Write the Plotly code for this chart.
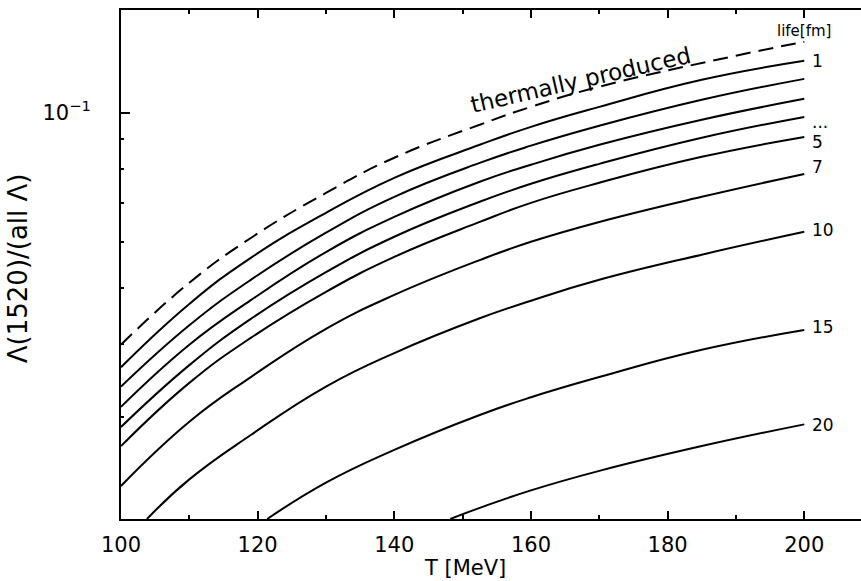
import numpy as np
import plotly.graph_objects as go

# ---- data ----
T_thermal = [100, 110, 119, 130, 140, 152.5, 160, 170, 190, 200]
thermal = [0.0399, 0.0510, 0.0609, 0.0728, 0.0837, 0.0954, 0.1024, 0.1109, 0.1254, 0.1325]

T_grid = [100, 110, 119, 130, 140, 152.5, 160, 170, 185, 200]
life_1 = [0.0365, 0.0469, 0.0563, 0.0673, 0.0773, 0.0881, 0.0946, 0.1024, 0.1140, 0.1229]
life_2 = [0.0338, 0.0431, 0.0516, 0.0622, 0.0717, 0.0820, 0.0878, 0.0950, 0.1053, 0.1144]
life_3 = [0.0312, 0.0399, 0.0476, 0.0576, 0.0662, 0.0761, 0.0814, 0.0881, 0.0973, 0.1057]
life_4 = [0.0288, 0.0368, 0.0442, 0.0532, 0.0612, 0.0703, 0.0755, 0.0817, 0.0906, 0.0984]
life_5 = [0.0267, 0.0343, 0.0410, 0.0492, 0.0565, 0.0649, 0.0700, 0.0758, 0.0840, 0.0909]
life_7 = [0.0228, 0.0294, 0.0351, 0.0425, 0.0486, 0.0558, 0.0600, 0.0649, 0.0717, 0.0785]

T_10 = [103.8, 110, 119, 130, 140, 152.5, 160, 170, 185, 200]
life_10 = [0.0200, 0.0234, 0.0279, 0.0338, 0.0386, 0.0443, 0.0475, 0.0516, 0.0570, 0.0624]

T_15 = [121.4, 130, 140, 152.5, 160, 170, 185, 200]
life_15 = [0.0200, 0.0231, 0.0263, 0.0302, 0.0324, 0.0351, 0.0391, 0.0423]

T_20 = [148.2, 152.5, 160, 170, 185, 200]
life_20 = [0.0200, 0.0209, 0.0224, 0.0242, 0.0267, 0.0291]

solid_series = [
    (T_grid, life_1, "1", 0),
    (T_grid, life_2, "", 0),
    (T_grid, life_3, "", 0),
    (T_grid, life_4, "...", -5),
    (T_grid, life_5, "5", -5),
    (T_grid, life_7, "7", 7),
    (T_10, life_10, "10", 2),
    (T_15, life_15, "15", 3),
    (T_20, life_20, "20", -1),
]

x_ticks = [100, 120, 140, 160, 180, 200]
x_minor = [110, 130, 150, 170, 190]
y_major = [0.1]
y_major_text = ["10<sup>\u22121</sup>"]
y_minor = [0.02, 0.03, 0.04, 0.05, 0.06, 0.07, 0.08, 0.09]

FONT = "DejaVu Sans"

fig = go.Figure()
fig.add_trace(go.Scatter(x=T_thermal, y=thermal, mode="lines",
                         line=dict(color="black", width=2, dash="15px,8px", shape="spline", smoothing=1.3),
                         hoverinfo="skip"))
for tx, ty, lab, sh in solid_series:
    fig.add_trace(go.Scatter(x=tx, y=ty, mode="lines",
                             line=dict(color="black", width=2, shape="spline", smoothing=1.3),
                             hoverinfo="skip"))
    if lab:
        fig.add_annotation(x=tx[-1], y=np.log10(ty[-1]), xref="x", yref="y", text=lab,
                           showarrow=False, xanchor="left", xshift=6, yshift=sh,
                           font=dict(family=FONT, size=17, color="black"))

fig.add_annotation(x=T_thermal[-1], y=np.log10(thermal[-1]), xref="x", yref="y", text="life[fm]",
                   showarrow=False, xanchor="center", xshift=0, yshift=11,
                   font=dict(family=FONT, size=15, color="black"))

fig.add_annotation(x=167.2, y=np.log10(0.1139), xref="x", yref="y", text="thermally produced",
                   showarrow=False, textangle=-13,
                   font=dict(family=FONT, size=23, color="black"))

# axis titles
fig.add_annotation(x=-0.139, y=0.493, xref="paper", yref="paper", text="\u039b(1520)/(all \u039b)",
                   showarrow=False, textangle=-90, xanchor="center", yanchor="middle",
                   font=dict(family=FONT, size=26, color="black"))
fig.add_annotation(x=0.465, y=-0.096, xref="paper", yref="paper", text="T [MeV]",
                   showarrow=False, xanchor="center", yanchor="middle",
                   font=dict(family=FONT, size=21, color="black"))

fig.update_layout(
    width=861, height=581,
    margin=dict(l=121, r=0, t=10, b=62),
    paper_bgcolor="white", plot_bgcolor="white",
    showlegend=False,
    font=dict(family=FONT, size=21, color="black"),
)
fig.update_xaxes(
    range=[100, 208.3], showgrid=False, zeroline=False,
    showline=True, linecolor="black", linewidth=2, mirror="ticks",
    tickmode="array", tickvals=x_ticks, ticks="inside", ticklen=8, tickwidth=1.5, tickcolor="black",
    minor=dict(tickmode="array", tickvals=x_minor, ticks="inside", ticklen=4,
               tickwidth=1.5, tickcolor="black", showgrid=False),
    tickfont=dict(family=FONT, size=21, color="black"),
    ticklabelstandoff=6,
)
fig.update_yaxes(
    type="log", range=[np.log10(0.02), np.log10(0.1503)], showgrid=False, zeroline=False,
    showline=True, linecolor="black", linewidth=2, mirror=False,
    tickmode="array", tickvals=y_major, ticktext=y_major_text,
    ticks="inside", ticklen=9, tickwidth=1.5, tickcolor="black",
    minor=dict(tickmode="array", tickvals=y_minor, ticks="inside", ticklen=3,
               tickwidth=1.5, tickcolor="black", showgrid=False),
    tickfont=dict(family=FONT, size=21, color="black"),
    ticklabelstandoff=24,
)

fig.write_html("out.html",
               config={"displayModeBar": False},
               post_script="document.body.style.margin='0px';document.body.style.overflow='hidden';")
